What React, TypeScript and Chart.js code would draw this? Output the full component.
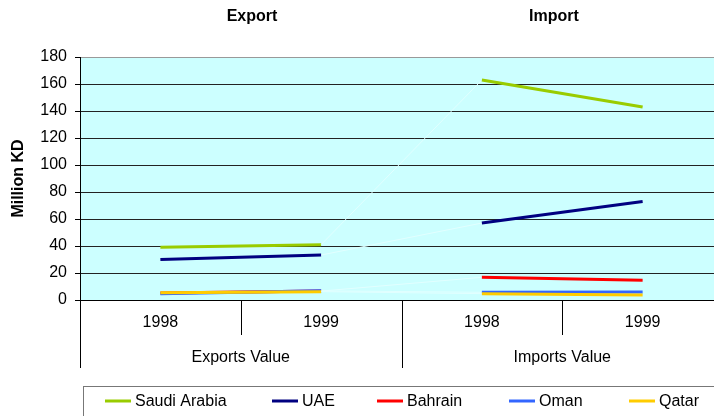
import React, { useEffect, useRef } from "react";
import { Chart, registerables } from "chart.js";

Chart.register(...registerables);

const categories = ["1998", "1999", "1998", "1999"];
const groupLabels = ["Exports Value", "Imports Value"];
const panelTitles = ["Export", "Import"];
const yTitle = "Million KD";

const seriesNames = ["Saudi Arabia", "UAE", "Bahrain", "Oman", "Qatar"];
const seriesColors = ["#99CC00", "#000080", "#FF0000", "#3366FF", "#FFCC00"];

// [export 1998, export 1999, import 1998, import 1999]
const saudiArabia = [39, 41, 163, 143];
const uae = [30, 33.3, 57, 73];
const bahrain = [5.2, 6.6, 16.8, 14.6];
const oman = [4.6, 6.8, 5.7, 5.9];
const qatar = [5.4, 6.2, 4.7, 3.7];

const seriesValues = [saudiArabia, uae, bahrain, oman, qatar];

const FONT = "'Liberation Sans', Arial, sans-serif";
const BG = "#CCFFFF";

const decorPlugin = {
  id: "decor",
  beforeDraw(chart: any) {
    const { ctx, chartArea } = chart;
    ctx.save();
    ctx.fillStyle = BG;
    ctx.fillRect(chartArea.left, chartArea.top, chartArea.right - chartArea.left, chartArea.bottom - chartArea.top);
    ctx.restore();
  },
  afterDraw(chart: any) {
    const { ctx, chartArea } = chart;
    const x = chart.scales.x;
    const bottom = chartArea.bottom;
    const n = categories.length;
    const w = (chartArea.right - chartArea.left) / n;
    ctx.save();
    ctx.strokeStyle = "#000";
    ctx.lineWidth = 1;
    for (let i = 0; i <= n; i++) {
      const px = Math.round(chartArea.left + i * w) + 0.5;
      const long = i % 2 === 0;
      ctx.beginPath();
      ctx.moveTo(px, bottom);
      ctx.lineTo(px, bottom + (long ? 68 : 35));
      ctx.stroke();
    }
    ctx.fillStyle = "#000";
    ctx.font = `16px ${FONT}`;
    ctx.textAlign = "center";
    ctx.textBaseline = "middle";
    groupLabels.forEach((g, gi) => {
      const cx = (x.getPixelForValue(gi * 2) + x.getPixelForValue(gi * 2 + 1)) / 2;
      ctx.fillText(g, cx, bottom + 58);
    });
    ctx.font = `bold 16px ${FONT}`;
    const titleX = [252, 554];
    panelTitles.forEach((t, i) => ctx.fillText(t, titleX[i], 17));
    ctx.strokeStyle = "#777";
    ctx.strokeRect(83.5, 386.5, 700, 60);
    ctx.font = `16px ${FONT}`;
    ctx.textAlign = "left";
    const legendX = [105, 272, 377, 509, 629];
    const ly = 401;
    chart.data.datasets.forEach((ds: any, i: number) => {
      ctx.strokeStyle = ds.borderColor;
      ctx.lineWidth = 3;
      ctx.beginPath();
      ctx.moveTo(legendX[i], ly);
      ctx.lineTo(legendX[i] + 26, ly);
      ctx.stroke();
      ctx.fillStyle = "#000";
      ctx.fillText(ds.label, legendX[i] + 30, ly + 1);
    });
    ctx.restore();
  },
};

export default function App() {
  const ref = useRef<HTMLCanvasElement>(null);
  useEffect(() => {
    if (!ref.current) return;
    const chart = new Chart(ref.current, {
      type: "line",
      data: {
        labels: categories,
        datasets: seriesNames.map((name, i) => ({
          label: name,
          data: seriesValues[i],
          order: seriesNames.length - i,
          borderColor: seriesColors[i],
          backgroundColor: seriesColors[i],
          borderWidth: 3,
          pointRadius: 0,
          tension: 0,
          segment: {
            borderColor: (c: any) => (c.p0DataIndex === 1 ? "#E2FFFF" : undefined),
            borderWidth: (c: any) => (c.p0DataIndex === 1 ? 1 : undefined),
          },
        })),
      },
      options: {
        responsive: false,
        animation: false,
        devicePixelRatio: 1,
        layout: { padding: { top: 57, right: 17, left: 0, bottom: 0 } },
        plugins: { legend: { display: false }, tooltip: { enabled: false }, title: { display: false } },
        scales: {
          x: {
            type: "category",
            offset: true,
            grid: { display: false, drawTicks: false },
            border: { display: true, color: "#000", width: 1 },
            ticks: { color: "#000", font: { family: FONT, size: 16 }, padding: 13, maxRotation: 0 },
            afterFit: (s: any) => { s.height = 116; },
          },
          y: {
            min: 0,
            max: 180,
            ticks: { stepSize: 20, color: "#000", font: { family: FONT, size: 16 }, padding: 8 },
            grid: {
              color: (c: any) => (c.tick && c.tick.value === 180 ? "#999" : "#222"),
              tickLength: 5,
              tickColor: "#000",
            },
            border: { display: true, color: "#000", width: 1 },
            title: { display: true, text: yTitle, color: "#000", font: { family: FONT, size: 16, weight: "bold" }, padding: { top: 9, bottom: 0 } },
            afterFit: (s: any) => { s.width = 80; },
          },
        },
      },
      plugins: [decorPlugin],
    } as any);
    return () => chart.destroy();
  }, []);
  return (
    <div style={{ position: "absolute", left: 0, top: 0, width: 714, height: 416, overflow: "hidden", background: "#fff" }}>
      <canvas ref={ref} width={740} height={416} style={{ width: 740, height: 416, display: "block" }} />
    </div>
  );
}
